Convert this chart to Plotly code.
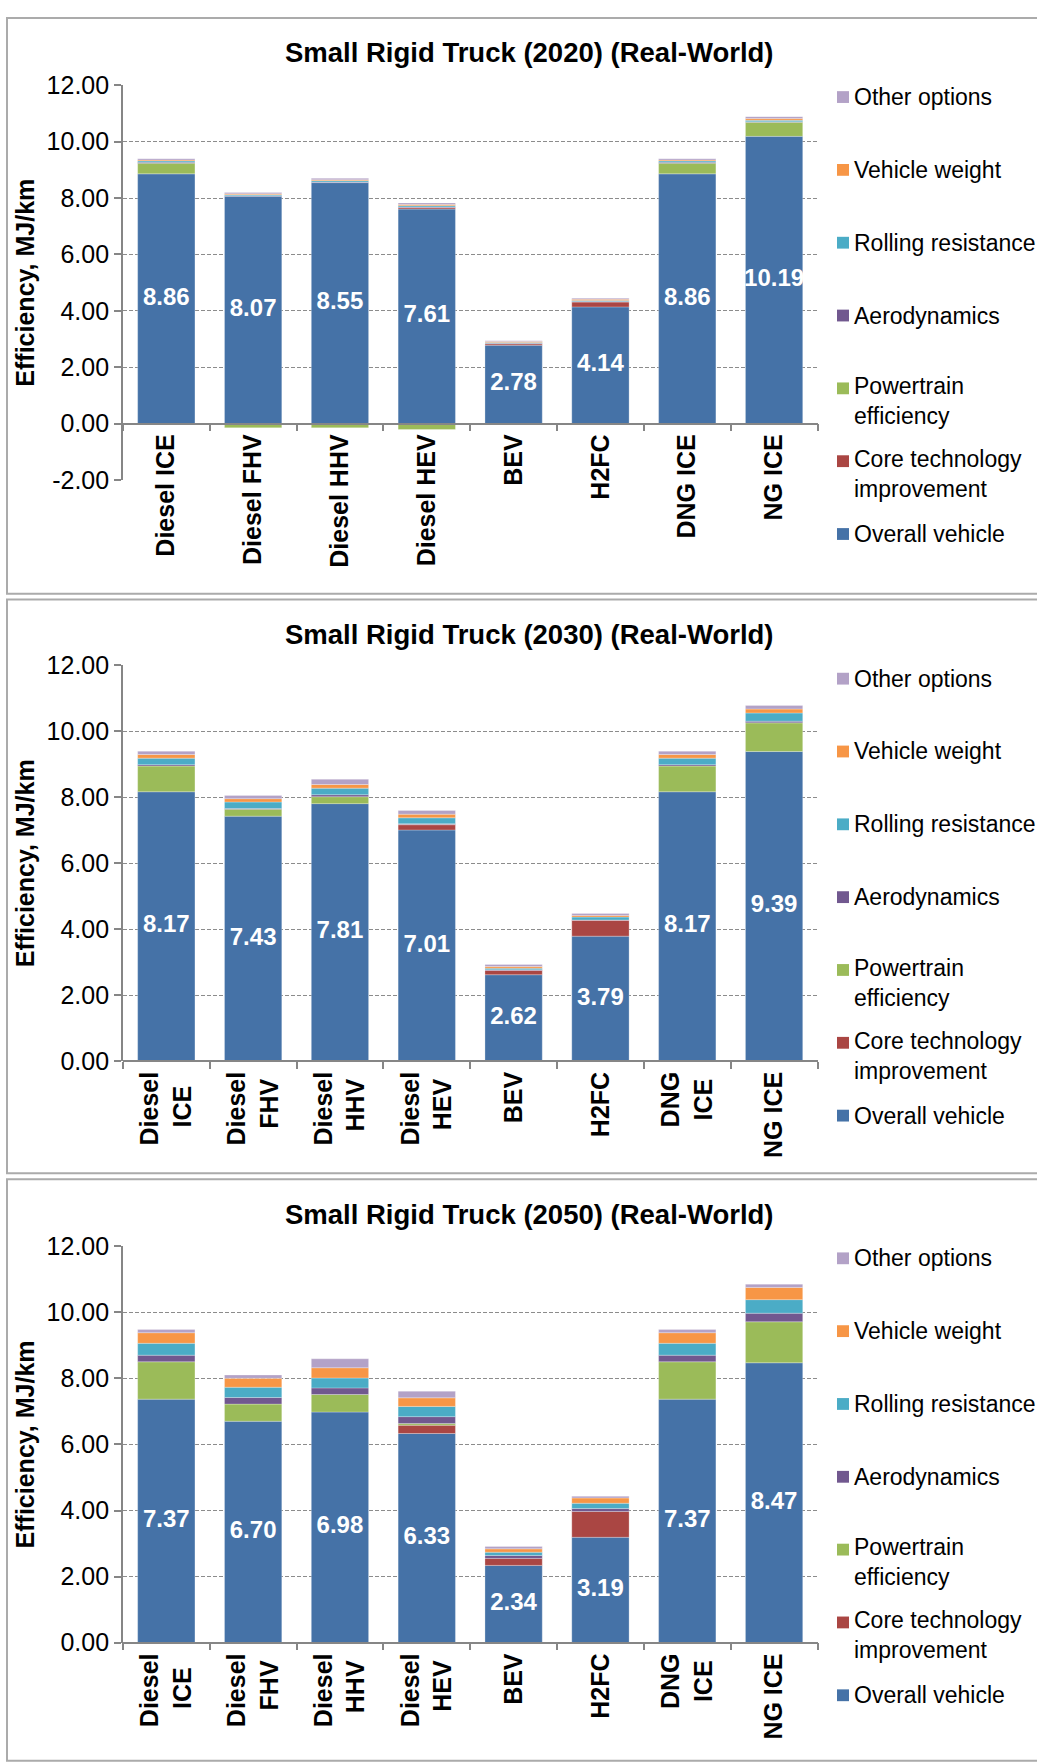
import plotly.graph_objects as go

# ---------------------------------------------------------------- data
categories = ["Diesel ICE", "Diesel FHV", "Diesel HHV", "Diesel HEV",
              "BEV", "H2FC", "DNG ICE", "NG ICE"]
# two-line variants; short second lines are padded with no-break spaces so they sit centred
categories_wrapped = ["Diesel<br>ICE\u00a0\u00a0", "Diesel<br>FHV\u00a0", "Diesel<br>HHV\u00a0",
                      "Diesel<br>HEV\u00a0", "BEV", "H2FC", "DNG<br>ICE\u00a0", "NG ICE"]

series_names = ["Overall vehicle", "Core technology improvement", "Powertrain efficiency",
                "Aerodynamics", "Rolling resistance", "Vehicle weight", "Other options"]
legend_labels = ["Overall vehicle", "Core technology<br>improvement", "Powertrain<br>efficiency",
                 "Aerodynamics", "Rolling resistance", "Vehicle weight", "Other options"]
series_colors = ["#4572A7", "#AA4643", "#9BBB59", "#71588F", "#4BACC6", "#F79646", "#B3A2C7"]

y_ticks_2020 = [-2, 0, 2, 4, 6, 8, 10, 12]
y_tick_labels_2020 = ["-2.00", "0.00", "2.00", "4.00", "6.00", "8.00", "10.00", "12.00"]
y_ticks = [0, 2, 4, 6, 8, 10, 12]
y_tick_labels = ["0.00", "2.00", "4.00", "6.00", "8.00", "10.00", "12.00"]

# 2020 (MJ/km)
overall_2020 = [8.86, 8.07, 8.55, 7.61, 2.78, 4.14, 8.86, 10.19]
core_2020 = [0.00, 0.00, 0.00, 0.05, 0.05, 0.17, 0.00, 0.00]
powertrain_2020 = [0.38, -0.15, -0.15, -0.21, 0.00, 0.00, 0.38, 0.50]
aero_2020 = [0.03, 0.01, 0.02, 0.02, 0.02, 0.02, 0.03, 0.02]
rolling_2020 = [0.05, 0.04, 0.05, 0.05, 0.03, 0.04, 0.05, 0.05]
weight_2020 = [0.03, 0.03, 0.03, 0.04, 0.03, 0.04, 0.03, 0.06]
other_2020 = [0.05, 0.05, 0.05, 0.06, 0.03, 0.04, 0.05, 0.07]

# 2030 (MJ/km)
overall_2030 = [8.17, 7.43, 7.81, 7.01, 2.62, 3.79, 8.17, 9.39]
core_2030 = [0.00, 0.00, 0.00, 0.16, 0.13, 0.48, 0.00, 0.00]
powertrain_2030 = [0.78, 0.21, 0.21, 0.01, 0.00, 0.00, 0.78, 0.87]
aero_2030 = [0.04, 0.02, 0.06, 0.02, 0.02, 0.01, 0.04, 0.05]
rolling_2030 = [0.20, 0.20, 0.20, 0.18, 0.05, 0.09, 0.20, 0.25]
weight_2030 = [0.11, 0.10, 0.11, 0.11, 0.05, 0.05, 0.11, 0.12]
other_2030 = [0.10, 0.10, 0.16, 0.11, 0.06, 0.06, 0.10, 0.11]

# 2050 (MJ/km)
overall_2050 = [7.37, 6.70, 6.98, 6.33, 2.34, 3.19, 7.37, 8.47]
core_2050 = [0.00, 0.00, 0.00, 0.25, 0.21, 0.78, 0.00, 0.00]
powertrain_2050 = [1.13, 0.52, 0.53, 0.05, 0.00, 0.00, 1.13, 1.24]
aero_2050 = [0.20, 0.20, 0.20, 0.21, 0.09, 0.09, 0.20, 0.26]
rolling_2050 = [0.36, 0.31, 0.30, 0.31, 0.10, 0.16, 0.36, 0.41]
weight_2050 = [0.32, 0.27, 0.31, 0.26, 0.10, 0.16, 0.32, 0.37]
other_2050 = [0.10, 0.10, 0.27, 0.20, 0.07, 0.05, 0.10, 0.10]

# ---------------------------------------------------------------- layout helpers
W, H = 1037, 1763
FONT = "Arial, Liberation Sans, sans-serif"
AXIS_GREY = "#868686"


def fx(p):
    return p / W


def fy(p):
    return 1 - p / H


panels = [
    dict(year=2020, ticks=categories, ymin=-2, top=72.5, bottom=473.5, box=(7, 4, 1040, 589),
         tickvals=y_ticks_2020, ticktext=y_tick_labels_2020,
         series=[overall_2020, core_2020, powertrain_2020, aero_2020,
                 rolling_2020, weight_2020, other_2020]),
    dict(year=2030, ticks=categories_wrapped, ymin=0, top=662, bottom=1064, box=(7, 595, 1040, 1178),
         tickvals=y_ticks, ticktext=y_tick_labels,
         series=[overall_2030, core_2030, powertrain_2030, aero_2030,
                 rolling_2030, weight_2030, other_2030]),
    dict(year=2050, ticks=categories_wrapped, ymin=0, top=1252, bottom=1655, box=(7, 1184, 1040, 1775),
         tickvals=y_ticks, ticktext=y_tick_labels,
         series=[overall_2050, core_2050, powertrain_2050, aero_2050,
                 rolling_2050, weight_2050, other_2050]),
]

PLOT_LEFT, PLOT_RIGHT = 122.9, 817.5

fig = go.Figure()
shapes, annotations = [], []

for i, p in enumerate(panels, start=1):
    sfx = "" if i == 1 else str(i)
    xa, ya = "x" + sfx, "y" + sfx

    # stacked contributions, bottom to top
    for name, color, vals in zip(series_names, series_colors, p["series"]):
        fig.add_trace(go.Bar(
            x=p["ticks"], y=[v if v != 0 else None for v in vals], name=name,
            marker=dict(color=color, line=dict(color="rgba(255,255,255,0.45)", width=0.6)),
            xaxis=xa, yaxis=ya, showlegend=False, hoverinfo="skip"))

    # value labels centred in the base segment
    base = p["series"][0]
    fig.add_trace(go.Scatter(
        x=p["ticks"], y=[v / 2 for v in base], text=[f"{v:.2f}" for v in base],
        mode="text", textposition="middle center",
        textfont=dict(family=FONT, size=24, color="white", weight="bold"),
        xaxis=xa, yaxis=ya, showlegend=False, hoverinfo="skip"))

    ymax = 12
    span = ymax - p["ymin"]
    zero_px = p["top"] + (ymax - 0) * (p["bottom"] - p["top"]) / span

    fig.update_layout(**{
        "xaxis" + sfx: dict(
            domain=[fx(PLOT_LEFT), fx(PLOT_RIGHT)], type="category",
            anchor="free", position=fy(zero_px),
            showline=True, linecolor=AXIS_GREY, linewidth=1.5,
            ticks="outside", tickson="boundaries", ticklen=7, tickcolor=AXIS_GREY, tickwidth=1.5,
            tickangle=-90, showgrid=False,
            tickfont=dict(family=FONT, size=25, color="black", weight="bold")),
        "yaxis" + sfx: dict(
            domain=[fy(p["bottom"]), fy(p["top"])], anchor=xa,
            range=[p["ymin"], ymax], tickmode="array",
            tickvals=p["tickvals"], ticktext=p["ticktext"],
            showline=True, linecolor=AXIS_GREY, linewidth=1.5,
            ticks="outside", ticklen=7, tickcolor=AXIS_GREY, tickwidth=1.5,
            showgrid=True, gridcolor="#8c8c8c", gridwidth=1.3, griddash="4px,2px",
            zeroline=False,
            tickfont=dict(family=FONT, size=25, color="black")),
    })

    # panel frame
    x0, y0, x1, y1 = p["box"]
    shapes.append(dict(type="rect", xref="paper", yref="paper",
                       x0=fx(x0), x1=fx(x1), y0=fy(y1), y1=fy(y0),
                       line=dict(color="#ababab", width=2), fillcolor="rgba(0,0,0,0)", layer="below"))

    off = y0 - 4  # vertical offset of this panel
    # chart title
    annotations.append(dict(
        text=f"Small Rigid Truck ({p['year']}) (Real-World)", xref="paper", yref="paper",
        x=fx(529), y=fy(39.5 + off), xanchor="center", yanchor="middle", showarrow=False,
        font=dict(family=FONT, size=27.5, color="black", weight="bold")))
    # y-axis title
    annotations.append(dict(
        text="Efficiency, MJ/km", xref="paper", yref="paper", textangle=-90,
        x=fx(25), y=fy((p["top"] + p["bottom"]) / 2), xanchor="center", yanchor="middle",
        showarrow=False, font=dict(family=FONT, size=25, color="black", weight="bold")))

    # legend, top entry = last stacked series
    for k, idx in enumerate(reversed(range(len(series_names)))):
        cy = 84.4 + off + k * 74.0
        shapes.append(dict(type="rect", xref="paper", yref="paper",
                           x0=fx(837), x1=fx(849), y0=fy(cy + 6), y1=fy(cy - 6),
                           fillcolor=series_colors[idx], line=dict(width=0)))
        label = legend_labels[idx]
        two_lines = "<br>" in label
        annotations.append(dict(
            text=label, xref="paper", yref="paper", align="left",
            x=fx(852), y=fy(cy + (13 if two_lines else 0)), xanchor="left", yanchor="middle",
            showarrow=False, font=dict(family=FONT, size=23, color="black")))

fig.update_layout(
    width=W, height=H, autosize=False,
    margin=dict(l=0, r=0, t=0, b=0),
    paper_bgcolor="white", plot_bgcolor="white",
    barmode="relative", bargap=0.34,
    showlegend=False,
    shapes=shapes, annotations=annotations,
)

fig.write_html("out.html")
